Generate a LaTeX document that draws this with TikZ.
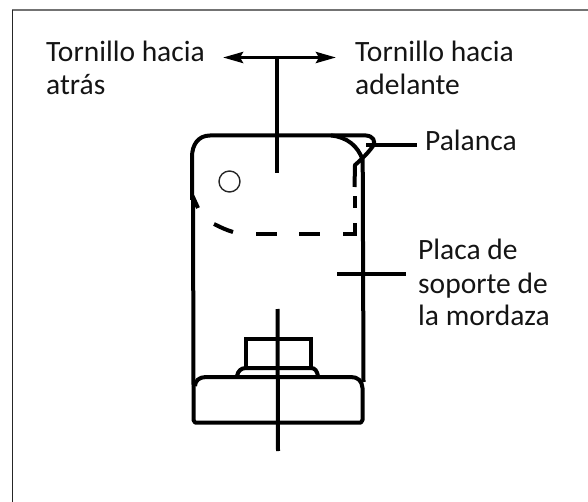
\documentclass[tikz,border=0pt]{standalone}
\usepackage{fontspec}
\setmainfont{Carlito}
\usetikzlibrary{arrows.meta}
\begin{document}
\begin{tikzpicture}[x=1pt,y=-1pt,
  heavy/.style={line width=4pt,black},
  leader/.style={line width=3.4pt,black},
  label/.style={anchor=base west,inner sep=0pt,align=left,text=black!92,font=\fontsize{29.5}{33}\selectfont},
  double tip/.style={{Stealth[length=20pt,width=11pt,inset=3pt]}-{Stealth[length=20pt,width=11pt,inset=3pt]}}]
\useasboundingbox (0,0) rectangle (588,502);
% frame
\draw[line width=1.6pt,black!55] (12,10) -- (588,10);
\draw[line width=1.3pt,black!85] (12.5,10) -- (12.5,502);
% labels
\node[label] (back1) at (46,62) {Tornillo hacia};
\node[label] (back2) at (46,95) {atrás};
\node[label] (fwd1) at (355,62) {Tornillo hacia};
\node[label] (fwd2) at (355,95) {adelante};
\node[label] (lever) at (425,151) {Palanca};
\node[label] (plate1) at (418,260) {Placa de};
\node[label] (plate2) at (418,293) {soporte de};
\node[label] (plate3) at (418,325) {la mordaza};
% coordinates of connector ends
\coordinate (al) at (223,57.5);
\coordinate (ar) at (336,57.5);
\coordinate (am) at (277,57.5);
\coordinate (cb) at (277,173);
\coordinate (lo1) at (277.5,309);
\coordinate (lo2) at (278,451);
\coordinate (ls) at (366,145);
\coordinate (le) at (417,145);
\coordinate (ps) at (337,274);
\coordinate (pe) at (406,274);
% body
\draw[heavy,line join=round] (192,200) -- (192,157) .. controls (192,145) and (198,135.5) .. (210,135.5) -- (331,135.5)
  .. controls (347,137) and (358,146) .. (362.7,160) -- (363.5,382);
\draw[heavy] (193,198) -- (193.5,386);
\draw[heavy] (192.5,196) -- (198,208);
% lever
\draw[heavy,line join=round] (331,135.5) -- (366,135.5) .. controls (373,136) and (376,141) .. (373,146)
  .. controls (368,153) and (362,159) .. (355,165) -- (354.5,187);
% dashed hidden edge
\draw[heavy] (214,224) .. controls (220,227) and (226,230) .. (233,232);
\draw[heavy] (256,234) -- (277,234) (299,234) -- (320,234);
\draw[heavy,line join=miter] (343,234) -- (354.5,234) -- (354.5,223);
\draw[heavy] (354.5,208) -- (354.5,196);
% pin
\node[draw=black!85,line width=1.4pt,circle,minimum size=21pt,inner sep=0pt] (pin) at (229.5,181.5) {};
% base
\draw[heavy,line join=round] (195,386) .. controls (195,381) and (199,377) .. (206,377) -- (351,377)
  .. controls (358,377) and (362,381) .. (362.5,388) -- (362.5,420) -- (361,422.5) -- (195,422.5) -- (193.5,420) -- (193.5,386);
% nut
\draw[heavy,line join=miter] (246,368) -- (246,339) -- (311,339) -- (311,368);
\draw[heavy] (237,376) .. controls (238,371) and (241,368) .. (246,368) -- (311,368) .. controls (315,368) and (317,371) .. (318,376);
% centre lines, arrow and leaders
\draw[leader,double tip] (al) -- (ar);
\draw[heavy] (am) -- (cb);
\draw[heavy] (lo1) -- (lo2);
\draw[leader] (ls) -- (le);
\draw[leader] (ps) -- (pe);
\end{tikzpicture}
\end{document}
